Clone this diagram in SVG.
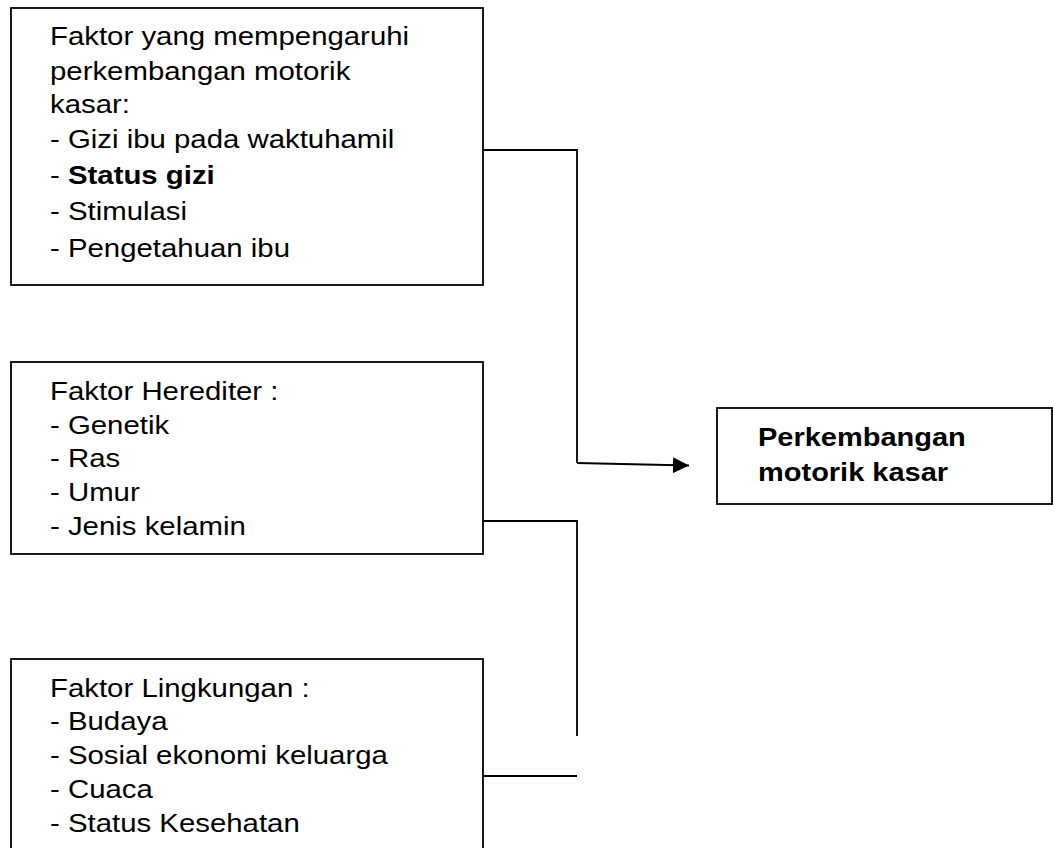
<svg xmlns="http://www.w3.org/2000/svg" width="1053" height="848" viewBox="0 0 1053 848">
<defs>
<style>
.box{fill:#fff;stroke:#000;stroke-width:1.8}
.t{font-family:"Liberation Sans",Arial,sans-serif;font-size:25px;fill:#000}
.b{font-weight:bold}
.c{fill:none;stroke:#000;stroke-width:1.8}
</style>
<marker id="ah" markerWidth="16" markerHeight="16" refX="16" refY="8" orient="auto" markerUnits="userSpaceOnUse">
<path d="M0,0 L16,8 L0,16 Z" fill="#000"/>
</marker>
</defs>
<rect width="1053" height="848" fill="#fff"/>
<g id="connectors">
<polyline class="c" points="483,150 577,150 577,463"/>
<line class="c" x1="577" y1="463" x2="689" y2="465.5" marker-end="url(#ah)"/>
<polyline class="c" points="483,521 577,521 577,736"/>
<line class="c" x1="483" y1="776" x2="577" y2="776"/>
</g>
<g id="node-faktor-motorik">
<rect class="box" x="11" y="8" width="472" height="277"/>
<g transform="translate(50,0) scale(1.175,1)">
<text class="t" x="0" y="45.5">Faktor yang mempengaruhi</text>
<text class="t" x="0" y="80.5">perkembangan motorik</text>
<text class="t" x="0" y="113">kasar:</text>
<text class="t" x="0" y="148.5">- Gizi ibu pada waktuhamil</text>
<text class="t" x="0" y="184.5">- <tspan class="b">Status gizi</tspan></text>
<text class="t" x="0" y="220.5">- Stimulasi</text>
<text class="t" x="0" y="257">- Pengetahuan ibu</text>
</g>
</g>
<g id="node-herediter">
<rect class="box" x="11" y="362" width="472" height="192"/>
<g transform="translate(50,0) scale(1.175,1)">
<text class="t" x="0" y="400">Faktor Herediter :</text>
<text class="t" x="0" y="434">- Genetik</text>
<text class="t" x="0" y="467">- Ras</text>
<text class="t" x="0" y="501">- Umur</text>
<text class="t" x="0" y="535">- Jenis kelamin</text>
</g>
</g>
<g id="node-lingkungan">
<rect class="box" x="11" y="659" width="472" height="200"/>
<g transform="translate(50,0) scale(1.175,1)">
<text class="t" x="0" y="697">Faktor Lingkungan :</text>
<text class="t" x="0" y="730">- Budaya</text>
<text class="t" x="0" y="764">- Sosial ekonomi keluarga</text>
<text class="t" x="0" y="798">- Cuaca</text>
<text class="t" x="0" y="832">- Status Kesehatan</text>
</g>
</g>
<g id="node-perkembangan">
<rect class="box" x="717" y="408" width="335" height="96"/>
<g transform="translate(758,0) scale(1.16,1)">
<text class="t b" x="0" y="446.5">Perkembangan</text>
<text class="t b" x="0" y="481">motorik kasar</text>
</g>
</g>
</svg>
